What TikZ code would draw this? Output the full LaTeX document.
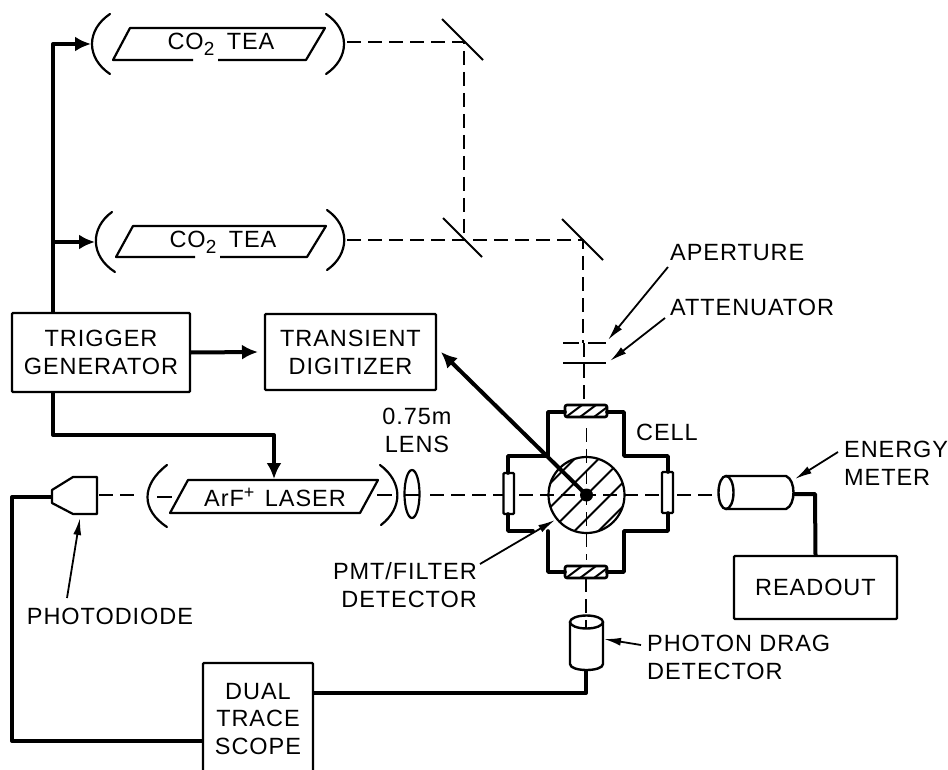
\documentclass[tikz,border=0pt]{standalone}
\usepackage{fontspec}
\setmainfont[LetterSpace=4]{Liberation Sans}
\usetikzlibrary{arrows.meta}
\newcommand{\subtwo}{\raisebox{-6pt}{\fontsize{19}{19}\selectfont 2}}
\newcommand{\supplus}{\raisebox{8pt}{\fontsize{18}{18}\selectfont +}}
\tikzset{
  lbl/.style={inner sep=0pt,font=\fontsize{23.5}{28}\selectfont,text=black,align=center},
  boxnode/.style={draw=black,line width=2.2pt,lbl,rounded corners=1pt},
  thin line/.style={draw=black,line width=2.2pt,line join=round},
  arcline/.style={draw=black,line width=2.2pt,line cap=round},
  heavy/.style={draw=black,line width=4pt,line join=round},
  heavyarrow/.style={heavy,-{Latex[length=16pt,width=15pt]}},
  pointer/.style={draw=black,line width=1.8pt,-{Latex[length=17pt,width=8pt]}},
  beam/.style={draw=black,line width=1.9pt,dash pattern=on 14pt off 7pt},
  wall/.style={draw=black,line width=3.6pt,line join=round,line cap=round},
  mirror/.style={draw=black,line width=2pt},
  hatchline/.style={draw=black,line width=2pt},
}
\begin{document}
\begin{tikzpicture}[x=1pt,y=-1pt]
\useasboundingbox (0,0) rectangle (948,770);
\fill[white] (0,0) rectangle (948,770);

% boxes
\node[boxnode,minimum width=178pt,minimum height=79pt] (trig) at (101,352.5) {TRIGGER\\GENERATOR};
\node[boxnode,minimum width=171pt,minimum height=76pt] (trans) at (350.5,352) {TRANSIENT\\DIGITIZER};
\node[boxnode,minimum width=163pt,minimum height=63pt] (read) at (815.5,587.5) {READOUT};
\node[boxnode,minimum width=110pt,minimum height=112pt,font=\fontsize{23.5}{27.5}\selectfont] (scope) at (258,719) {DUAL\\TRACE\\SCOPE};

% CO2 cavity 1
\draw[thin line] (193,60) -- (113,60) -- (130,28) -- (325,28) -- (306,60) -- (218,60);
\node[lbl] (co1) at (221,44) {CO\subtwo\hspace{5pt} TEA};
\draw[arcline] (110,14) .. controls (86,30) and (86,58) .. (110,74);
\draw[arcline] (326,14) .. controls (350,30) and (350,58) .. (326,74);
% CO2 cavity 2
\draw[thin line] (195,257) -- (116,257) -- (133,226) -- (326,226) -- (307,257) -- (220,257);
\node[lbl] (co2) at (223,242) {CO\subtwo\hspace{5pt} TEA};
\draw[arcline] (112,212) .. controls (90,228) and (90,256) .. (115,272);
\draw[arcline] (327,210) .. controls (350,226) and (350,254) .. (327,270);
% laser
\draw[thin line] (170,513) -- (188,480) -- (378,480) -- (360,513) -- cycle;
\node[lbl] (laser) at (275,497) {ArF\supplus\hspace{3pt} LASER};
\draw[arcline] (167,465) .. controls (141,485) and (141,510) .. (167,527);
\draw[arcline] (380,465) .. controls (403,482) and (403,508) .. (381,525);
% lens
\draw[line width=2.2pt] (412,494) ellipse (7.5pt and 24pt);
\draw[line width=2pt] (405,495) -- (420,495);
\node[lbl] (lens) at (417,430) {0.75m\\LENS};
% photodiode
\draw[thin line] (97,477) -- (73,477) -- (52,490) -- (52,503) -- (73,514) -- (97,514) -- cycle;

% mirrors
\draw[mirror] (442,19) -- (483,60);
\draw[mirror] (443,218) -- (482,257);
\draw[mirror] (562,219) -- (603,260);

% aperture, attenuator
\draw[line width=2pt] (563,343) -- (579,343) (588,343) -- (606,343);
\draw[line width=2pt] (563,363) -- (606,363);

% cell interior
\begin{scope}
\clip (586.5,495) circle (38pt);
\foreach \c in {-48,-24,0,24,48}
  \draw[hatchline] (586.5+\c-60,555) -- (586.5+\c+60,435);
\end{scope}
\draw[line width=2.2pt] (586.5,495) circle (38pt);
\fill[black] (586.5,495) circle (6.5pt);

% windows
\foreach \yy in {405,566}{
  \begin{scope}
  \clip (565,\yy) rectangle (607,\yy+12);
  \foreach \c in {-12,2,16}
    \draw[hatchline] (586+\c-8,\yy+12) -- (586+\c+8,\yy);
  \end{scope}
  \draw[line width=2.6pt,rounded corners=2pt] (565,\yy) rectangle (607,\yy+12);
}
\draw[line width=2.4pt,rounded corners=1pt] (503.5,473) rectangle (514,514);
\draw[line width=2.4pt,rounded corners=1pt] (662,472) rectangle (673,513);

% cell walls
\draw[wall] (565,412) -- (548,412) -- (548,456) -- (508,456) -- (508,473);
\draw[wall] (508,514) -- (508,531) -- (533,531);
\draw[wall] (548,531) -- (548,572) -- (565,572);
\draw[wall] (607,572) -- (624,572) -- (624,531) -- (668,531) -- (668,513);
\draw[wall] (668,472) -- (668,456) -- (624,456) -- (624,412) -- (607,412);

% beams
\draw[beam] (347,42) -- (464,42) -- (464,240);
\draw[beam] (347,240) -- (583,240) -- (583,343);
\draw[beam] (584,343) -- (584,405);
\draw[beam] (586.5,428) -- (586.5,560);
\draw[beam] (586,578) -- (586,628);
\draw[beam] (99,495) -- (140,495);
\draw[line width=2pt] (157,497) -- (172,497);
\draw[line width=2pt] (377,495) -- (392,495);
\draw[beam] (430,495) -- (503,495);
\draw[beam] (519,495) -- (662,495);
\draw[beam] (677,495) -- (718,495);

% photon drag detector
\draw[line width=2.4pt] (570,622) -- (570,664) .. controls (570,672) and (603,672) .. (603,664) -- (603,622);
\draw[line width=2.4pt] (586.5,622) ellipse (16.5pt and 6.5pt);
\coordinate (pdbottom) at (586,670);
\coordinate (pdside) at (604,639);
\node[lbl,align=left,anchor=west] (pdlabel) at (647,657.5) {PHOTON DRAG\\DETECTOR};

% energy meter
\draw[line width=2.4pt] (726,476) -- (786,476) .. controls (796,480) and (796,505) .. (786,509) -- (726,509);
\draw[line width=2.4pt] (726,492.5) ellipse (7.5pt and 16.5pt);
\coordinate (emside) at (794,494);
\coordinate (emtop) at (795,479);
\node[lbl,align=left,anchor=west] (emlabel) at (844,463.5) {ENERGY\\METER};

% labels
\node[lbl,anchor=west] (aplabel) at (670,253) {APERTURE};
\node[lbl,anchor=west] (atlabel) at (670,307) {ATTENUATOR};
\node[lbl,anchor=west] (celllabel) at (636,432) {CELL};
\node[lbl,align=right,anchor=east] (pmtlabel) at (477,585.5) {PMT/FILTER\\DETECTOR};
\node[lbl] (pdiolabel) at (110,616) {PHOTODIODE};

% named connector ends
\coordinate (busT) at (53,313);
\coordinate (bus1) at (53,44);
\coordinate (in1) at (91,44);
\coordinate (in2) at (95,242);
\coordinate (bus2) at (53,242);
\coordinate (busB) at (53,392);
\coordinate (laserin) at (274,479);
\coordinate (diode) at (52,497);
\coordinate (scopeL) at (203,741);
\coordinate (scopeR) at (313,693);
\coordinate (detc) at (586.5,495);
\coordinate (pmtcell) at (555,520);
\coordinate (transin) at (258,352);

% heavy connectors
\draw[heavyarrow] (busT) -- (bus1) -- (in1);
\draw[heavyarrow] (bus2) -- (in2);
\draw[heavyarrow] (trig.east) -- (transin);
\draw[heavyarrow] (busB) -- (53,435) -- (274,435) -- (laserin);
\draw[heavy] (diode) -- (12,497) -- (12,741) -- (scopeL);
\draw[heavy] (scopeR) -- (586,693) -- (pdbottom);
\draw[heavy] (emside) -- (815,494) -- (read.north);
\draw[heavyarrow] (detc) -- (441,352);

% pointers
\draw[pointer] (668,267) -- (608,340);
\draw[pointer] (665,318) -- (610,361);
\draw[pointer] (838,452) -- (emtop);
\draw[pointer] (641,645) -- (pdside);
\draw[pointer] (67,598) -- (80,518);
\draw[pointer] (480,564) -- (pmtcell);
\end{tikzpicture}
\end{document}
